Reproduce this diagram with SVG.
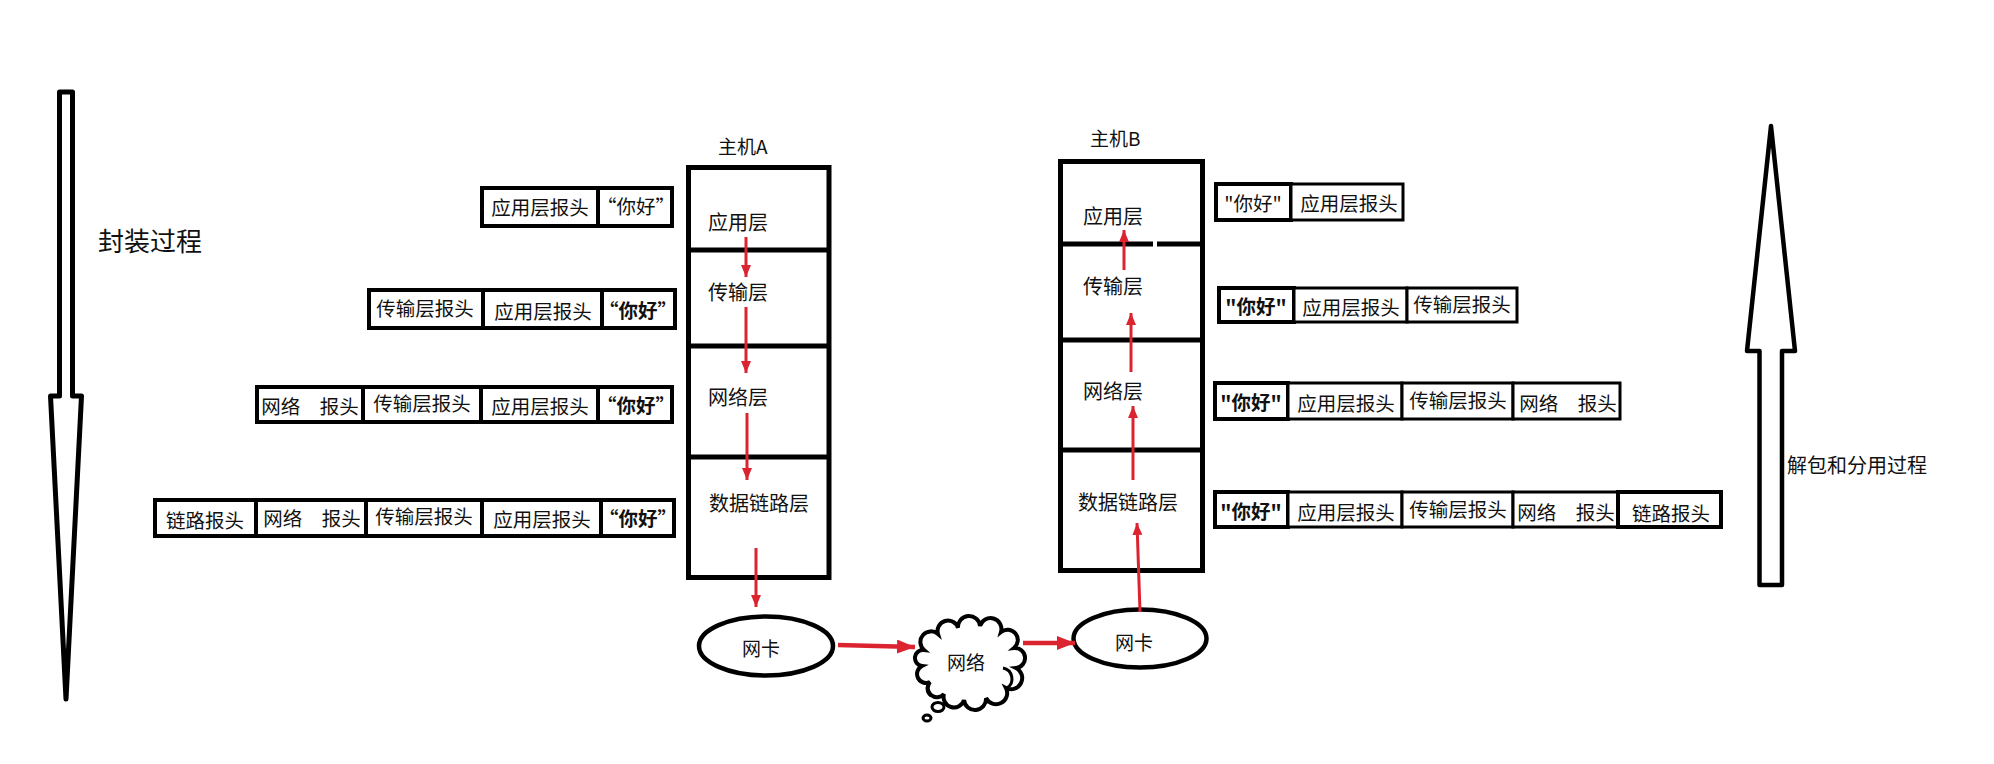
<svg xmlns="http://www.w3.org/2000/svg" width="1994" height="764" viewBox="0 0 1994 764">
<style>
text{font-family:"Noto Sans CJK SC","Microsoft YaHei",sans-serif;fill:#111;}
.cell{fill:#fff;stroke:#000;stroke-width:4;}
.cellt{fill:#fff;stroke:#000;stroke-width:3;}
.pt{font-size:19.5px;text-anchor:middle;dominant-baseline:central;}
.b{font-weight:bold;}
.lay{font-size:20px;dominant-baseline:central;}
.host{fill:#fff;stroke:#000;stroke-width:5;}
.div{stroke:#000;stroke-width:5;}
.big{fill:#fff;stroke:#000;stroke-width:5;stroke-linejoin:round;}
.red{stroke:#dc2430;stroke-width:3;fill:none;}
.redh{stroke:#dc2430;stroke-width:4.5;fill:none;}
.outline{fill:#fff;stroke:#000;stroke-width:4.5;}
</style>
<defs>
<marker id="ah" markerUnits="userSpaceOnUse" markerWidth="12" markerHeight="10" refX="12" refY="5" orient="auto"><path d="M0,0 L12,5 L0,10 z" fill="#dc2430"/></marker>
<marker id="ahb" markerUnits="userSpaceOnUse" markerWidth="18" markerHeight="14" refX="18" refY="7" orient="auto"><path d="M0,0 L18,7 L0,14 z" fill="#dc2430"/></marker>
</defs>
<rect width="1994" height="764" fill="#fff"/>

<g id="encap-arrow">
<polygon class="big" points="59.5,92 72.5,92 72.5,396 81.5,396 66,699 50.5,396 59.5,396"/>
<text x="98" y="239" style="font-size:26px;dominant-baseline:central">封装过程</text>
</g>

<g id="decap-arrow">
<polygon class="big" points="1771,126 1795,351 1782,351 1782,585 1759.5,585 1759.5,351 1747,351" style="stroke-width:4.5"/>
<text x="1787" y="464" style="font-size:20px;dominant-baseline:central">解包和分用过程</text>
</g>

<g id="hostA">
<text x="718" y="145" style="font-size:19px;dominant-baseline:central">主机A</text>
<rect class="host" x="688.5" y="167.5" width="140.5" height="410"/>
<line class="div" x1="688.5" y1="250" x2="829" y2="250"/>
<line class="div" x1="688.5" y1="346" x2="829" y2="346"/>
<line class="div" x1="688.5" y1="457" x2="829" y2="457"/>
<text class="lay" x="708" y="221">应用层</text>
<text class="lay" x="708" y="291">传输层</text>
<text class="lay" x="708" y="396">网络层</text>
<text class="lay" x="709" y="502">数据链路层</text>
</g>

<g id="hostB">
<text x="1090" y="137" style="font-size:19px;dominant-baseline:central">主机B</text>
<rect class="host" x="1060.5" y="161.5" width="142" height="409"/>
<line class="div" x1="1060.5" y1="244" x2="1153" y2="244"/>
<line class="div" x1="1157" y1="244" x2="1202.5" y2="244"/>
<line class="div" x1="1060.5" y1="340" x2="1202.5" y2="340"/>
<line class="div" x1="1060.5" y1="450" x2="1202.5" y2="450"/>
<text class="lay" x="1083" y="215">应用层</text>
<text class="lay" x="1083" y="285">传输层</text>
<text class="lay" x="1083" y="390">网络层</text>
<text class="lay" x="1078" y="501">数据链路层</text>
</g>

<g id="nicA">
<ellipse class="outline" cx="766" cy="646" rx="67" ry="29.5"/>
<text x="761" y="647" style="font-size:19px;text-anchor:middle;dominant-baseline:central">网卡</text>
</g>

<g id="nicB">
<ellipse class="outline" cx="1140" cy="638.5" rx="66.5" ry="29"/>
<text x="1134" y="641" style="font-size:19px;text-anchor:middle;dominant-baseline:central">网卡</text>
</g>

<g id="network">
<path class="outline" style="stroke-width:4" d="M924,650 A1 1 0 0 1 938,634 A1 1 0 0 1 958,628 A1 1 0 0 1 980,626 A1 1 0 0 1 1001,632 A1 1 0 0 1 1014,648 A1 1 0 0 1 1016,668 A1 1 0 0 1 1006,688 A1 1 0 0 1 986,698 A1 1 0 0 1 964,700 A1 1 0 0 1 944,694 A1 1 0 0 1 930,682 A1 1 0 0 1 922,666 A1 1 0 0 1 924,650 Z"/>
<path d="M1003,668 A11 11 0 0 1 1007,688" fill="none" stroke="#000" stroke-width="3"/>
<path d="M930,682 A9 9 0 0 0 931,696" fill="none" stroke="#000" stroke-width="3"/>
<ellipse cx="938" cy="707" rx="6" ry="4.5" fill="#fff" stroke="#000" stroke-width="3"/>
<ellipse cx="927" cy="718" rx="4" ry="3" fill="#fff" stroke="#000" stroke-width="3"/>
<text x="966" y="661" style="font-size:19px;text-anchor:middle;dominant-baseline:central">网络</text>
</g>

<g id="pktA1">
<rect class="cell" x="482" y="188" width="116" height="38"/>
<rect class="cell" x="598" y="188" width="74" height="38"/>
<text class="pt" x="540" y="206">应用层报头</text>
<text class="pt" x="636" y="205">“你好”</text>
</g>
<g id="pktA2">
<rect class="cell" x="369" y="290" width="114" height="38"/>
<rect class="cell" x="483" y="290" width="119" height="38"/>
<rect class="cell" x="602" y="290" width="73" height="38"/>
<text class="pt" x="425" y="307">传输层报头</text>
<text class="pt" x="543" y="310">应用层报头</text>
<text class="pt b" x="638" y="309">“你好”</text>
</g>
<g id="pktA3">
<rect class="cell" x="257" y="387" width="106" height="35"/>
<rect class="cell" x="363" y="387" width="118" height="35"/>
<rect class="cell" x="481" y="387" width="117" height="35"/>
<rect class="cell" x="598" y="387" width="74" height="35"/>
<text class="pt" x="310" y="405" xml:space="preserve">网络　报头</text>
<text class="pt" x="422" y="402">传输层报头</text>
<text class="pt" x="540" y="405">应用层报头</text>
<text class="pt b" x="636" y="404">“你好”</text>
</g>
<g id="pktA4">
<rect class="cell" x="155" y="500" width="101" height="36"/>
<rect class="cell" x="256" y="500" width="110" height="36"/>
<rect class="cell" x="366" y="500" width="116" height="36"/>
<rect class="cell" x="482" y="500" width="119" height="36"/>
<rect class="cell" x="601" y="500" width="73" height="36"/>
<text class="pt" x="205" y="519">链路报头</text>
<text class="pt" x="312" y="517" xml:space="preserve">网络　报头</text>
<text class="pt" x="424" y="515">传输层报头</text>
<text class="pt" x="542" y="518">应用层报头</text>
<text class="pt b" x="638" y="517">“你好”</text>
</g>

<g id="pktB1">
<rect class="cell" x="1216" y="184" width="75" height="36"/>
<rect class="cellt" x="1291" y="184" width="112" height="36"/>
<text class="pt" x="1253" y="202">"你好"</text>
<text class="pt" x="1349" y="202">应用层报头</text>
</g>
<g id="pktB2">
<rect class="cell" x="1219" y="288" width="75" height="34"/>
<rect class="cellt" x="1294" y="288" width="113" height="34"/>
<rect class="cellt" x="1407" y="288" width="110" height="34"/>
<text class="pt b" x="1256" y="305">"你好"</text>
<text class="pt" x="1351" y="306">应用层报头</text>
<text class="pt" x="1462" y="303">传输层报头</text>
</g>
<g id="pktB3">
<rect class="cell" x="1215" y="383" width="73" height="36"/>
<rect class="cellt" x="1288" y="383" width="114" height="36"/>
<rect class="cellt" x="1402" y="383" width="111" height="36"/>
<rect class="cellt" x="1513" y="383" width="107" height="36"/>
<text class="pt b" x="1251" y="401">"你好"</text>
<text class="pt" x="1346" y="402">应用层报头</text>
<text class="pt" x="1458" y="399">传输层报头</text>
<text class="pt" x="1568" y="402" xml:space="preserve">网络　报头</text>
</g>
<g id="pktB4">
<rect class="cell" x="1215" y="492" width="73" height="35"/>
<rect class="cellt" x="1288" y="492" width="114" height="35"/>
<rect class="cellt" x="1402" y="492" width="111" height="35"/>
<rect class="cellt" x="1513" y="492" width="105" height="35"/>
<rect class="cell" x="1618" y="492" width="103" height="35"/>
<text class="pt b" x="1251" y="510">"你好"</text>
<text class="pt" x="1346" y="511">应用层报头</text>
<text class="pt" x="1458" y="508">传输层报头</text>
<text class="pt" x="1566" y="511" xml:space="preserve">网络　报头</text>
<text class="pt" x="1671" y="512">链路报头</text>
</g>

<g id="connectors">
<line class="red" x1="746" y1="237" x2="746" y2="277" marker-end="url(#ah)"/>
<line class="red" x1="746" y1="307" x2="746" y2="373" marker-end="url(#ah)"/>
<line class="red" x1="747" y1="413" x2="747" y2="480" marker-end="url(#ah)"/>
<line class="red" x1="756" y1="548" x2="756" y2="607" marker-end="url(#ah)"/>
<line class="redh" x1="838" y1="645" x2="915" y2="647" marker-end="url(#ahb)"/>
<line class="redh" x1="1023" y1="643" x2="1075" y2="643" marker-end="url(#ahb)"/>
<line class="red" x1="1140" y1="612" x2="1137" y2="523" marker-end="url(#ah)"/>
<line class="red" x1="1133" y1="480" x2="1133" y2="406" marker-end="url(#ah)"/>
<line class="red" x1="1131" y1="372" x2="1131" y2="313" marker-end="url(#ah)"/>
<line class="red" x1="1124" y1="270" x2="1124" y2="230" marker-end="url(#ah)"/>
</g>
</svg>
